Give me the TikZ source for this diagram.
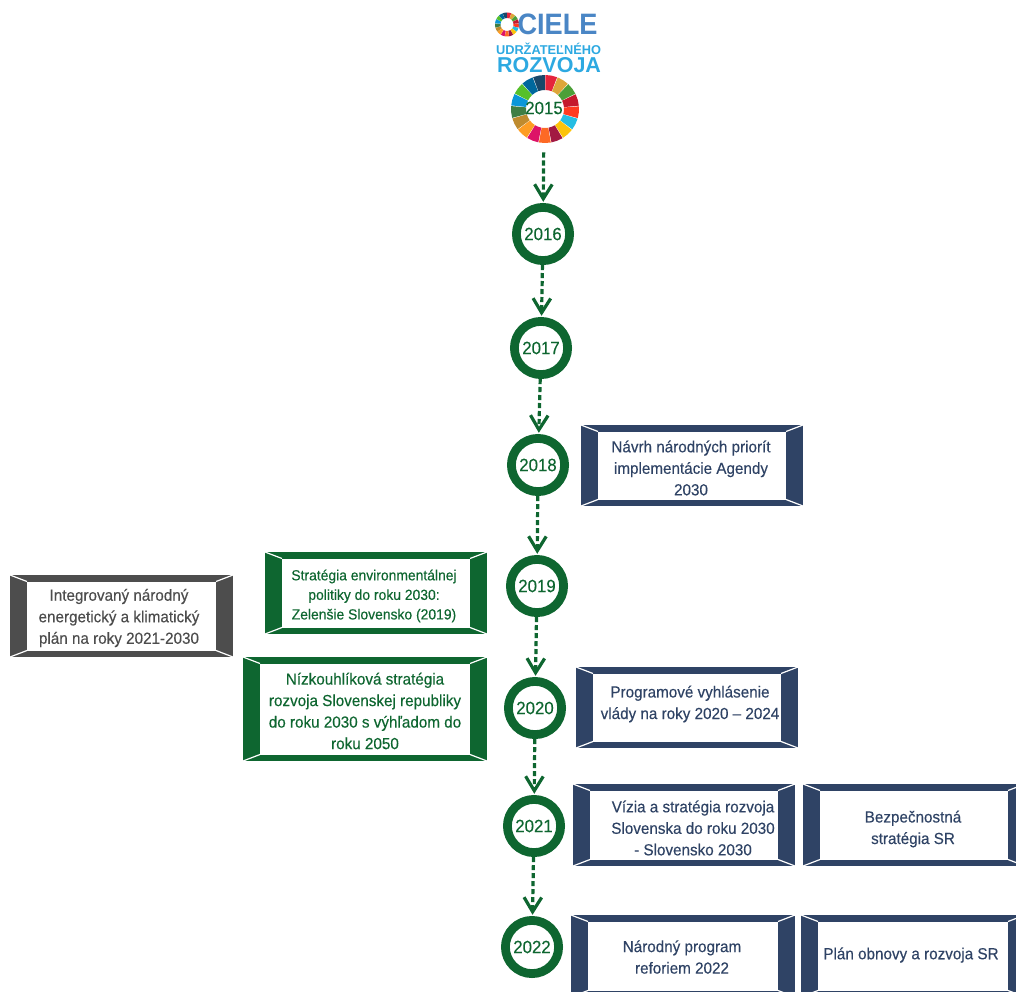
\documentclass[tikz,border=0pt]{standalone}
\usepackage{fontspec}
\setmainfont[FakeStretch=0.95,FakeBold=0.25]{Liberation Sans}
\newfontfamily\logofont{Liberation Sans}
\usetikzlibrary{positioning}
\usetikzlibrary{arrows.meta}

\definecolor{zelena}{HTML}{0E6630}
\definecolor{modra}{HTML}{2F4365}
\definecolor{seda}{HTML}{4D4D4D}
\definecolor{cielemodra}{HTML}{4A86C5}
\definecolor{rozvojmodra}{HTML}{2DA9E1}

\tikzset{
rok/.style={circle, draw=zelena, line width=0.22cm, minimum size=1.33cm, inner sep=0pt, text=zelena, font=\fontsize{12.6}{14}\selectfont},
tok/.style={zelena, line width=0.08cm, dash pattern=on 0.13cm off 0.07cm, shorten >=0.03cm, -{Straight Barb[length=0.36cm,width=0.44cm,line width=0.08cm]}},
popis/.style={align=center, inner sep=0pt, font=\fontsize{11.4}{15.3}\selectfont},
popismaly/.style={align=center, inner sep=0pt, font=\fontsize{10.4}{13.9}\selectfont},
}

% frame with bevelled corners
\newcommand{\ramik}[5]{
\fill[#5] (#1,#2) rectangle (#3,#4);
\fill[white] (#1+17,#2+6.5) rectangle (#3-17,#4-6.5);
\draw[white, line width=0.03cm] (#1,#2)--(#1+17,#2+6.5);
\draw[white, line width=0.03cm] (#3,#2)--(#3-17,#2+6.5);
\draw[white, line width=0.03cm] (#1,#4)--(#1+17,#4-6.5);
\draw[white, line width=0.03cm] (#3,#4)--(#3-17,#4-6.5);
}

% wheel of 17 segments
\newcommand{\koleso}[4]{
\foreach \farba [count=\i] in {E5243B,DDA63A,4C9F38,C5192D,FF3A21,26BDE2,FCC30B,A21942,FD6925,DD1367,FD9D24,BF8B2E,3F7E44,0A97D9,56C02B,00689D,19486A}{
\pgfmathsetmacro{\uhola}{-90+(\i-1)*21.176+0.8}
\pgfmathsetmacro{\uholb}{\uhola+10}
\pgfmathsetmacro{\uholc}{\uhola+20}
\definecolor{segment}{HTML}{\farba}
\fill[segment, shift={(#1,#2)}] (\uhola:#3)--(\uholb:#3)--(\uholc:#3)--(\uholc:#4)--(\uholb:#4)--(\uhola:#4)--cycle;
}
}

\begin{document}
\begin{tikzpicture}[x=0.025cm, y=-0.025cm]

\clip (0,0) rectangle (1016,991);

% logo
\koleso{507}{24.5}{12}{6.5}
\node[text=cielemodra, font=\logofont\fontsize{21}{21}\bfseries\selectfont, xscale=0.92, inner sep=0pt] (ciele) at (557.5,24) {CIELE};
\node[text=rozvojmodra, font=\logofont\fontsize{9.1}{10}\bfseries\selectfont, inner sep=0pt] (udrz) at (548.5,48.5) {UDRŽATEĽNÉHO};
\node[text=rozvojmodra, font=\logofont\fontsize{15.3}{16}\bfseries\selectfont, inner sep=0pt] (rozv) at (549,65) {ROZVOJA};
\koleso{545}{109}{34}{19}

% years
\node[rok, draw=none, minimum size=2cm] (r2015) at (544,108) {2015};
\node[rok] (r2016) at (543,234) {2016};
\node[rok] (r2017) at (541,348) {2017};
\node[rok] (r2018) at (538,465) {2018};
\node[rok] (r2019) at (537,586) {2019};
\node[rok] (r2020) at (535,708) {2020};
\node[rok] (r2021) at (534,826) {2021};
\node[rok] (r2022) at (532,947) {2022};

\draw[tok] (r2015)--(r2016);
\draw[tok] (r2016)--(r2017);
\draw[tok] (r2017)--(r2018);
\draw[tok] (r2018)--(r2019);
\draw[tok] (r2019)--(r2020);
\draw[tok] (r2020)--(r2021);
\draw[tok] (r2021)--(r2022);

% right side
\ramik{581}{425}{803}{506}{modra}
\node[popis, text=modra] (navrh) at (691,468) {Návrh národných priorít\\implementácie Agendy\\2030};

\ramik{576}{667}{798}{748}{modra}
\node[popis, text=modra] (program) at (690,704) {Programové vyhlásenie\\vlády na roky 2020 -- 2024};

\ramik{573}{784}{795}{866}{modra}
\node[popis, text=modra] (vizia) at (693,828) {Vízia a stratégia rozvoja\\Slovenska do roku 2030\\- Slovensko 2030};

\ramik{803}{784}{1025}{866}{modra}
\node[popis, text=modra] (bezp) at (913,829) {Bezpečnostná\\stratégia SR};

\ramik{571}{915}{795}{997}{modra}
\node[popis, text=modra] (reformy) at (682,957) {Národný program\\reforiem 2022};

\ramik{801}{915}{1025}{997}{modra}
\node[popis, text=modra] (obnova) at (911,955) {Plán obnovy a rozvoja SR};

% left side
\ramik{265}{552}{487}{634}{zelena}
\node[popismaly, text=zelena] (envi) at (374,596) {Stratégia environmentálnej\\politiky do roku 2030:\\Zelenšie Slovensko (2019)};

\ramik{10}{575}{233}{657}{seda}
\node[popis, text=seda] (nekp) at (119,618) {Integrovaný národný\\energetický a klimatický\\plán na roky 2021-2030};

\ramik{243}{657}{487}{761}{zelena}
\node[popis, text=zelena] (nizko) at (365,711) {Nízkouhlíková stratégia\\rozvoja Slovenskej republiky\\do roku 2030 s výhľadom do\\roku 2050};

\end{tikzpicture}
\end{document}
